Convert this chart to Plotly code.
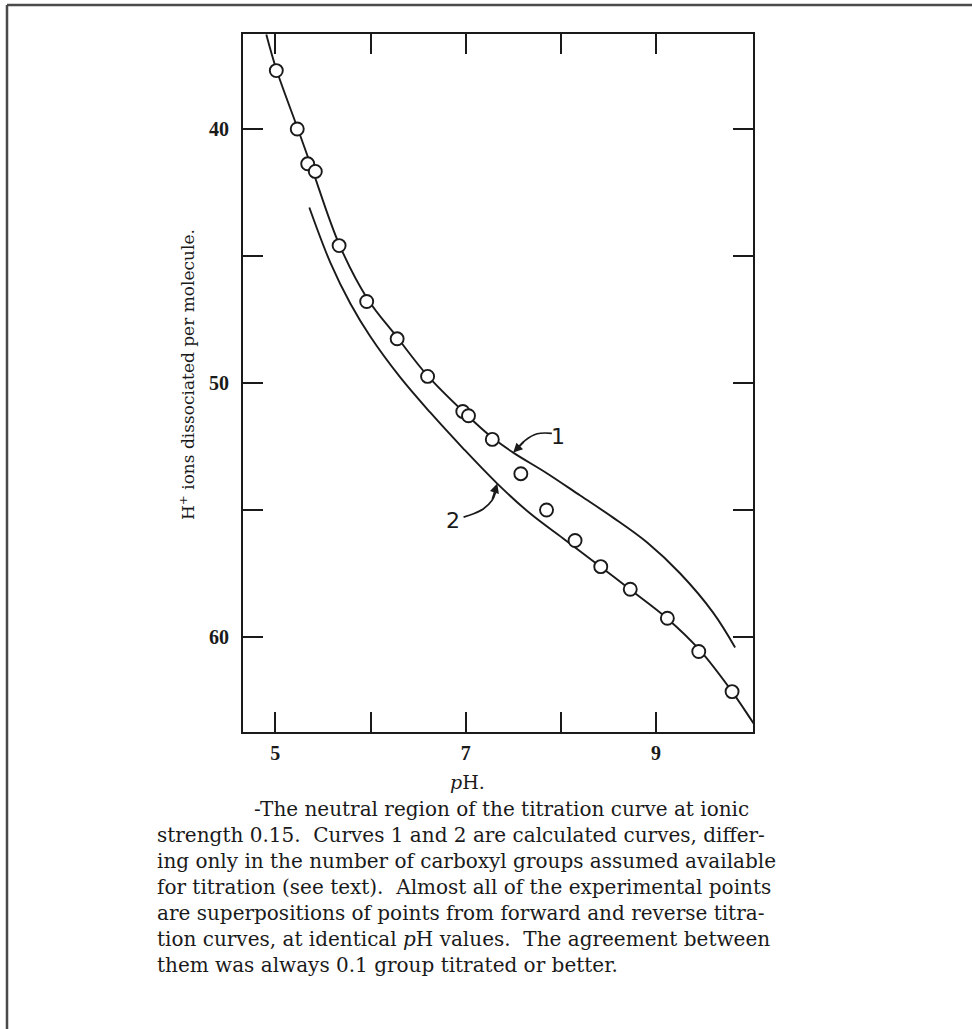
import plotly.graph_objects as go

# Experimental points (pH, H+ ions dissociated per molecule)
pts_ph = [5.01, 5.23, 5.34, 5.42, 5.67, 5.96, 6.28, 6.60, 6.97, 7.03, 7.28,
          7.58, 7.85, 8.15, 8.42, 8.73, 9.12, 9.45, 9.80]
pts_h = [37.70, 40.00, 41.37, 41.67, 44.59, 46.79, 48.26, 49.74, 51.12, 51.29, 52.22,
         53.57, 55.00, 56.20, 57.23, 58.12, 59.26, 60.57, 62.15]

# Calculated curve 1
c1_ph = [4.905, 5.011, 5.231, 5.378, 5.672, 5.966, 6.282, 6.597, 6.996, 7.279, 7.500,
         7.857, 8.204, 8.550, 8.908, 9.255, 9.601, 9.832]
c1_h = [36.28, 37.66, 39.94, 41.48, 44.55, 46.67, 48.21, 49.70, 51.20, 52.15, 52.74,
        53.56, 54.43, 55.30, 56.28, 57.50, 59.04, 60.41]

# Calculated curve 2
c2_ph = [5.357, 5.578, 5.788, 5.998, 6.313, 6.628, 6.975, 7.332, 7.679, 8.025, 8.414,
         8.729, 9.118, 9.454, 9.800, 10.021, 10.095]
c2_h = [43.09, 45.26, 46.87, 48.17, 49.78, 51.16, 52.58, 53.96, 55.14, 56.12, 57.22,
        58.13, 59.27, 60.49, 62.15, 63.37, 63.77]

# Curved leader lines for the curve labels
lead1_ph = [7.52, 7.626, 7.752, 7.906]
lead1_h = [52.68, 52.26, 52.00, 51.98]
lead2_ph = [6.978, 7.083, 7.188, 7.276, 7.315]
lead2_h = [55.28, 55.15, 54.95, 54.63, 54.30]
labels = ["1", "2"]
label_ph = [7.975, 6.87]
label_h = [52.10, 55.41]

x_ticks = [5, 6, 7, 8, 9]
x_text = ["5", "", "7", "", "9"]
y_ticks = [40, 45, 50, 55, 60]
y_text = ["40", "", "50", "", "60"]

caption = [
    "-The neutral region of the titration curve at ionic",
    "strength 0.15.  Curves 1 and 2 are calculated curves, differ-",
    "ing only in the number of carboxyl groups assumed available",
    "for titration (see text).  Almost all of the experimental points",
    "are superpositions of points from forward and reverse titra-",
    "tion curves, at identical <i>p</i>H values.  The agreement between",
    "them was always 0.1 group titrated or better.",
]

SERIF = "Liberation Serif, Times New Roman, serif"
WIDE_SERIF = "DejaVu Serif, serif"
INK = "#1a1a1a"

fig = go.Figure()
for cx, cy in ((c1_ph, c1_h), (c2_ph, c2_h)):
    fig.add_trace(go.Scatter(x=cx, y=cy, mode="lines",
                             line=dict(color=INK, width=1.9, shape="spline", smoothing=1.0),
                             hoverinfo="skip", showlegend=False))
for lx, ly in ((lead1_ph, lead1_h), (lead2_ph, lead2_h)):
    fig.add_trace(go.Scatter(x=lx, y=ly, mode="lines",
                             line=dict(color=INK, width=1.7, shape="spline"),
                             hoverinfo="skip", showlegend=False))
fig.add_trace(go.Scatter(x=pts_ph, y=pts_h, mode="markers",
                         marker=dict(symbol="circle", size=13, color="white",
                                     line=dict(color=INK, width=1.9)),
                         showlegend=False))

# arrowheads for leaders (tips on the curves)
fig.add_annotation(x=c1_ph[10], y=c1_h[10], ax=lead1_ph[1], ay=lead1_h[1], axref="x", ayref="y",
                   xref="x", yref="y", text="", showarrow=True, arrowhead=2,
                   arrowsize=1.1, arrowwidth=1.7, arrowcolor=INK)
fig.add_annotation(x=c2_ph[7], y=c2_h[7], ax=lead2_ph[3], ay=lead2_h[3], axref="x", ayref="y",
                   xref="x", yref="y", text="", showarrow=True, arrowhead=2,
                   arrowsize=1.1, arrowwidth=1.7, arrowcolor=INK)
for t, lx, ly in zip(labels, label_ph, label_h):
    fig.add_annotation(x=lx, y=ly, xref="x", yref="y", text=t, showarrow=False,
                       font=dict(family="DejaVu Sans", size=22, color=INK),
                       xanchor="center", yanchor="middle")

# axis titles
fig.add_annotation(x=(187 - 243) / 510, y=(732 - 375) / 698, xref="paper", yref="paper",
                   text="H<sup>+</sup> ions dissociated per molecule.", textangle=-90,
                   xanchor="center", yanchor="middle",
                   showarrow=False, font=dict(family=WIDE_SERIF, size=17, color=INK))
fig.add_annotation(x=(467 - 243) / 510, y=(732 - 782) / 698, xref="paper", yref="paper",
                   text="<i>p</i>H.", showarrow=False, xanchor="center", yanchor="middle",
                   font=dict(family=WIDE_SERIF, size=19, color=INK))

# caption
cap_x = [252, 155, 155, 155, 155, 155, 155]
for i, line in enumerate(caption):
    py = 809 + 26 * i
    fig.add_annotation(x=(cap_x[i] - 243) / 510, y=(732 - py) / 698, xref="paper", yref="paper",
                       text=line, showarrow=False, xanchor="left", yanchor="middle",
                       font=dict(family=WIDE_SERIF, size=20, color=INK))

# outer page frame (top and left edges)
fx0 = (7 - 243) / 510
fy0 = (732 - 5) / 698
fig.add_shape(type="line", xref="paper", yref="paper", x0=fx0, y0=fy0, x1=1.5, y1=fy0,
              line=dict(color="#4a4a4a", width=2.5))
fig.add_shape(type="line", xref="paper", yref="paper", x0=fx0, y0=fy0, x1=fx0, y1=-0.5,
              line=dict(color="#4a4a4a", width=2.5))

fig.update_xaxes(range=[4.66, 10.02], tickvals=x_ticks, ticktext=x_text,
                 ticks="inside", ticklen=20, tickwidth=2, tickcolor=INK,
                 showline=True, linecolor=INK, linewidth=2, mirror="ticks",
                 showgrid=False, zeroline=False, ticklabelstandoff=2,
                 tickfont=dict(family=SERIF, size=20, color=INK, weight="bold"))
fig.update_yaxes(range=[63.74, 36.26], tickvals=y_ticks, ticktext=y_text,
                 ticks="inside", ticklen=20, tickwidth=2, tickcolor=INK,
                 showline=True, linecolor=INK, linewidth=2, mirror="ticks",
                 showgrid=False, zeroline=False, ticklabelstandoff=8,
                 tickfont=dict(family=SERIF, size=20, color=INK, weight="bold"))

fig.update_layout(width=972, height=1029, margin=dict(l=243, r=219, t=34, b=297),
                  paper_bgcolor="white", plot_bgcolor="white", showlegend=False)

fig.write_html("out.html")
